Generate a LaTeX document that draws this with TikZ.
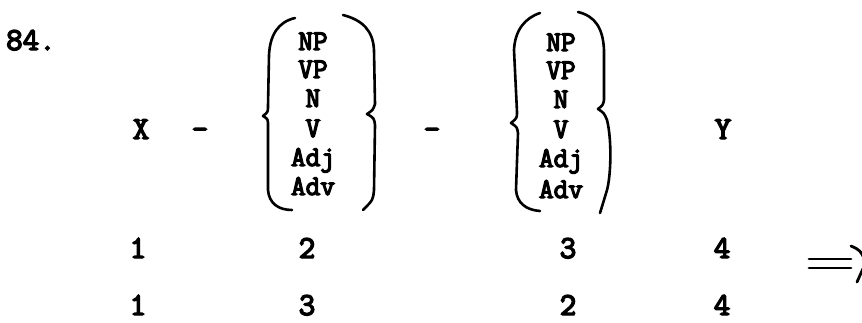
\documentclass[tikz,border=0pt]{standalone}
\usepackage{fontspec}
\newfontfamily\twfont[FakeBold=4.5]{Latin Modern Mono}
\begin{document}
\begin{tikzpicture}[x=1pt,y=-1pt,
  lbl/.style={font=\twfont\fontsize{32}{32}\selectfont, inner sep=0pt, anchor=base},
  stk/.style={font=\twfont\fontsize{28.5}{28.5}\selectfont, inner sep=0pt, anchor=base},
  brace/.style={line width=2.6pt, line cap=round, line join=round},
  arr/.style={line width=2.8pt, line cap=round}
]
\useasboundingbox (0,0) rectangle (862,322);
% number
\node[lbl, anchor=base west] (num) at (6,50) {84.};
% main row
\node[lbl] (x) at (141,139) {X};
\node[lbl] (d1) at (200,139) {-};
\node[lbl] (d2) at (432,139) {-};
\node[lbl] (y) at (723,139) {Y};
% left stack
\node[stk] (l1) at (313,50) {NP};
\node[stk] (l2) at (313,78) {VP};
\node[stk] (l3) at (313,107) {N};
\node[stk] (l4) at (313,137) {V};
\node[stk] (l5) at (313,166) {Adj};
\node[stk] (l6) at (313,195) {Adv};
% right stack
\node[stk] (r1) at (561,51) {NP};
\node[stk] (r2) at (561,79) {VP};
\node[stk] (r3) at (561,108) {N};
\node[stk] (r4) at (561,138) {V};
\node[stk] (r5) at (561,167) {Adj};
\node[stk] (r6) at (561,198) {Adv};
% braces, left pair
\draw[brace] (295,18) .. controls (278,22) and (270,35) .. (269,55) -- (268,106)
  .. controls (268,112) .. (263,116) .. controls (268,119) .. (268,126) -- (268,190)
  .. controls (269,203) and (278,210) .. (292,210);
\draw[brace] (343,15) .. controls (362,20) and (373,30) .. (374,50) -- (375,104)
  .. controls (373,110) .. (367,114) .. controls (374,118) .. (375,125) -- (374,190)
  .. controls (373,200) .. (363,210);
% braces, right pair
\draw[brace] (540,13) .. controls (525,18) and (515,30) .. (514,50) -- (517,112)
  .. controls (517,118) .. (511,123) .. controls (517,127) .. (518,133) -- (516,190)
  .. controls (517,203) and (526,210) .. (540,211);
\draw[brace] (578,12) .. controls (595,16) and (603,28) .. (604,50) -- (604,100)
  .. controls (603,105) .. (598,109) .. controls (604,113) .. (607,120)
  .. controls (612,140) and (611,175) .. (607,190) .. controls (604,200) .. (600,213);
% index rows
\node[lbl] (a1) at (138,258) {1};
\node[lbl] (a2) at (307,258) {2};
\node[lbl] (a3) at (568,258) {3};
\node[lbl] (a4) at (722,258) {4};
\node[lbl] (b1) at (138,315) {1};
\node[lbl] (b2) at (307,315) {3};
\node[lbl] (b3) at (568,315) {2};
\node[lbl] (b4) at (722,315) {4};
% double arrow
\coordinate (p1) at (809,259);
\coordinate (p2) at (851,259);
\coordinate (q1) at (809,268);
\coordinate (q2) at (851,268);
\coordinate (h1) at (851,246);
\coordinate (h2) at (866,262);
\coordinate (h3) at (857,282);
\draw[arr] (p1) -- (p2);
\draw[arr] (q1) -- (q2);
\draw[arr] (h1) .. controls (860,250) .. (h2) -- (h3);
\end{tikzpicture}
\end{document}
